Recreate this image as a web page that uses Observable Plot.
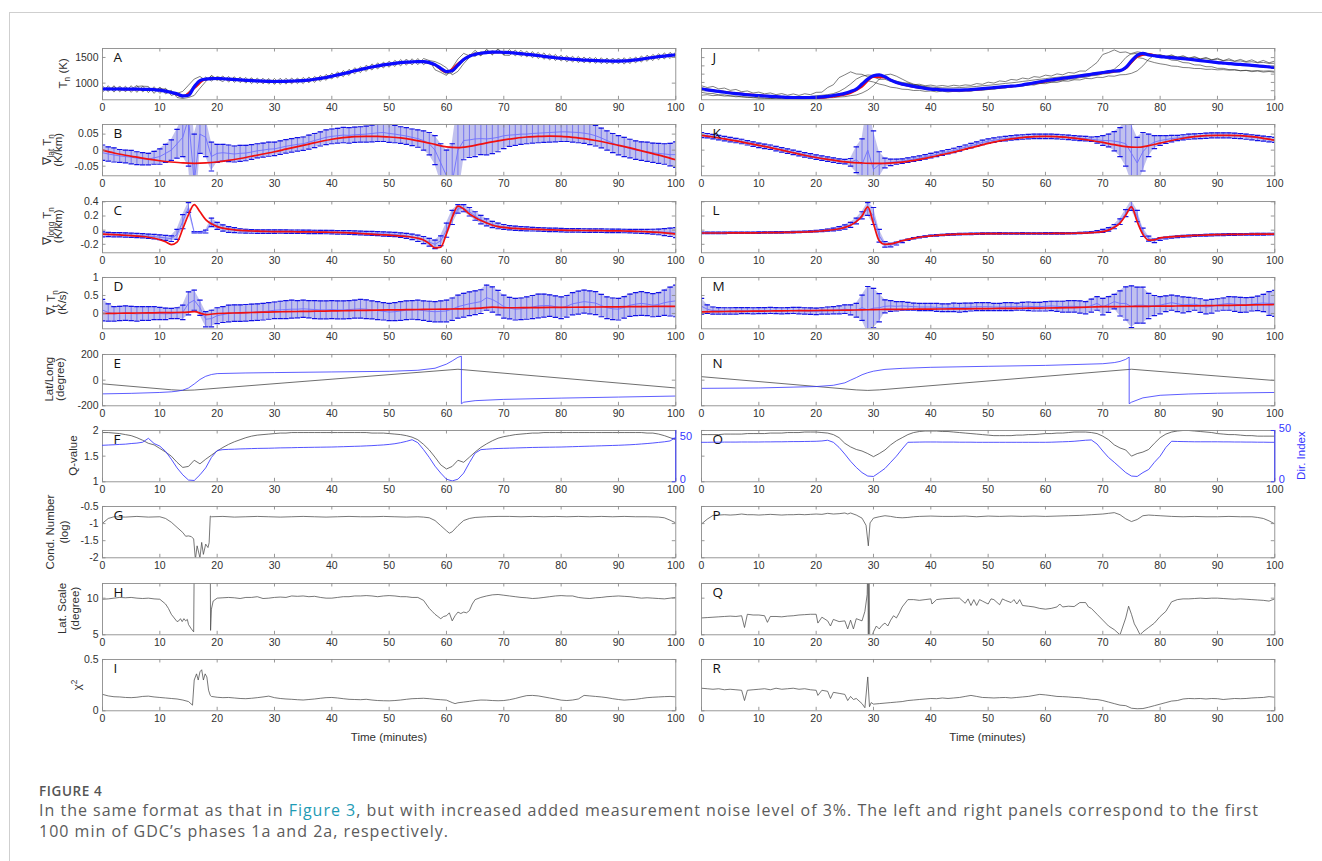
<!DOCTYPE html>
<html>
<head>
<meta charset="utf-8">
<title>Figure 4</title>
<script src="https://cdn.jsdelivr.net/npm/d3@7"></script>
<script src="https://cdn.jsdelivr.net/npm/@observablehq/plot@0.6"></script>
<style>
  html, body { margin: 0; padding: 0; background: #fff; }
  #page { position: relative; width: 1322px; height: 861px; overflow: hidden; background: #fff; }
  #border { position: absolute; left: 9px; top: 12px; right: -2px; bottom: -2px; border-top: 1px solid #cfcfcf; border-left: 1px solid #cfcfcf; }
  #caption { position: absolute; left: 39px; top: 782px; font-family: "Open Sans", sans-serif; color: #5b5b5b; white-space: nowrap; }
  #caption .fig { font-size: 13.5px; font-weight: 600; letter-spacing: 0.6px; line-height: 18px; color: #555; }
  #caption .txt { font-size: 16px; letter-spacing: 1px; line-height: 21px; }
  #caption a { color: #1e9bb5; text-decoration: none; }
</style>
</head>
<body>
<div id="page">
  <div id="border"></div>
  <div id="caption">
    <div class="fig">FIGURE 4</div>
    <div class="txt">In the same format as that in <a>Figure 3</a>, but with increased added measurement noise level of 3%. The left and right panels correspond to the first<br>100 min of GDC’s phases 1a and 2a, respectively.</div>
  </div>
</div>
<script>
// ---------------------------------------------------------------------------
// Sample grids (minutes)
const MINUTES = d3.range(0, 101);      // one sample per minute
const EVERY2 = d3.range(0, 101, 2);    // one sample every two minutes
const X_TICKS = d3.range(0, 101, 10);

// ---------------------------------------------------------------------------
// Phase 1a (left column)

// A: neutral temperature (K): estimate, truth and three observation tracks
const tnA_est = [885,888,884,886,883,885,882,880,878,872,864,
  845,818,790,750,765,930,1050,1078,1088,1090,
  1085,1078,1070,1062,1055,1048,1042,1038,1035,1032,
  1034,1036,1040,1043,1048,1060,1075,1092,1110,1135,
  1160,1185,1210,1240,1265,1290,1315,1335,1355,1370,
  1385,1398,1408,1415,1420,1418,1400,1360,1290,1225,
  1240,1350,1460,1525,1560,1582,1596,1605,1605,1600,
  1595,1585,1575,1562,1550,1538,1522,1508,1495,1485,
  1475,1465,1458,1450,1445,1440,1435,1432,1430,1430,
  1432,1440,1452,1468,1485,1500,1515,1528,1540,1552];
const tnA_true = [885,884,883,881,876,862,815,748,900,1075,1088,
  1076,1061,1047,1037,1032,1035,1042,1058,1090,1133,
  1183,1238,1288,1333,1368,1396,1413,1416,1350,1215,
  1380,1530,1583,1604,1600,1586,1562,1537,1507,1484,
  1464,1449,1439,1431,1429,1439,1467,1499,1527,1551];
const tnA_obs1 = [945,835,950,830,940,820,935,945,815,930,800,
  900,760,800,840,960,1080,1130,1050,1140,1050,
  1140,1020,1125,1010,1110,990,1100,985,1090,975,
  1095,980,1100,990,1110,1005,1130,1035,1170,1080,
  1220,1125,1270,1180,1320,1230,1375,1275,1410,1310,
  1445,1335,1470,1355,1480,1360,1440,1260,1210,1150,
  1300,1470,1580,1530,1640,1540,1660,1560,1670,1550,
  1655,1530,1640,1510,1615,1480,1590,1450,1560,1430,
  1535,1410,1520,1395,1505,1385,1495,1375,1490,1375,
  1495,1380,1510,1410,1545,1440,1575,1470,1600,1490];
const tnA_obs2 = [820,950,825,945,830,950,820,940,935,800,925,
  790,860,720,700,720,760,900,1030,1150,1080,
  1030,1130,1015,1120,1000,1105,990,1095,980,1090,
  975,1095,985,1100,990,1120,1015,1150,1055,1195,
  1100,1245,1150,1300,1205,1350,1255,1395,1295,1430,
  1325,1460,1350,1475,1360,1480,1440,1420,1370,1300,
  1160,1230,1380,1500,1600,1530,1650,1550,1660,1545,
  1540,1645,1520,1625,1495,1600,1465,1570,1440,1545,
  1415,1525,1400,1510,1390,1500,1380,1490,1370,1490,
  1370,1500,1395,1530,1425,1560,1455,1590,1480,1610];
const tnA_obs3 = [900,860,930,860,905,880,955,830,905,860,900,
  880,830,760,720,820,960,1010,1120,1040,1130,
  1090,1060,1100,1045,1060,1080,1035,1050,1060,1000,
  1040,1050,1020,1070,1060,1040,1090,1110,1100,1150,
  1170,1200,1190,1255,1270,1280,1330,1320,1370,1360,
  1400,1390,1420,1400,1440,1400,1380,1340,1250,1180,
  1200,1330,1430,1560,1520,1610,1580,1630,1590,1620,
  1600,1580,1570,1570,1540,1545,1510,1520,1480,1500,
  1470,1470,1450,1460,1440,1440,1430,1440,1425,1435,
  1440,1430,1460,1470,1480,1505,1510,1530,1535,1560];

// B: latitudinal gradient (K/km): truth, estimate and its uncertainty
const gLatA_true = [0,-0.009,-0.016,-0.022,-0.028,-0.033,-0.037,-0.04,-0.041,-0.04,-0.037,
  -0.032,-0.026,-0.019,-0.012,-0.005,0.003,0.011,0.019,0.027,0.034,
  0.039,0.042,0.043,0.043,0.041,0.038,0.033,0.026,0.018,0.01,
  0.008,0.012,0.019,0.026,0.032,0.037,0.041,0.043,0.044,0.043,
  0.04,0.036,0.03,0.023,0.015,0.007,-0.002,-0.011,-0.02,-0.03];
const gLatA_est = [-0.008,-0.012,-0.015,-0.018,-0.02,-0.022,-0.025,-0.027,-0.028,-0.024,-0.02,
  -0.01,0,0.02,0.04,0.1,-0.1,0.05,0.04,-0.02,-0.01,
  -0.008,-0.01,-0.012,-0.01,-0.009,-0.006,-0.002,0,0.003,0.004,
  0.008,0.012,0.015,0.018,0.02,0.025,0.03,0.035,0.04,0.043,
  0.045,0.047,0.046,0.048,0.049,0.05,0.052,0.054,0.055,0.052,
  0.05,0.047,0.044,0.04,0.036,0.03,0.02,0,-0.04,-0.08,
  -0.1,0,0.03,0.032,0.035,0.036,0.035,0.037,0.04,0.045,
  0.047,0.048,0.05,0.05,0.052,0.053,0.054,0.055,0.056,0.057,
  0.057,0.056,0.055,0.053,0.05,0.045,0.038,0.03,0.022,0.015,
  0.01,0.005,0,-0.003,-0.005,-0.008,-0.01,-0.012,-0.014,-0.014];
const gLatA_err = [0.024,0.022,0.022,0.02,0.02,0.021,0.02,0.019,0.018,0.02,0.024,
  0.028,0.032,0.045,0.06,0.15,0.15,0.06,0.06,0.045,0.028,
  0.026,0.026,0.025,0.025,0.024,0.023,0.022,0.022,0.022,0.021,
  0.021,0.021,0.021,0.021,0.021,0.022,0.022,0.022,0.023,0.023,
  0.023,0.024,0.024,0.024,0.024,0.025,0.026,0.027,0.028,0.028,
  0.027,0.026,0.026,0.026,0.027,0.03,0.035,0.045,0.06,0.08,
  0.12,0.15,0.06,0.055,0.055,0.05,0.05,0.048,0.045,0.04,
  0.035,0.033,0.032,0.03,0.03,0.03,0.03,0.03,0.03,0.03,
  0.03,0.031,0.032,0.032,0.033,0.032,0.031,0.03,0.03,0.03,
  0.03,0.029,0.029,0.029,0.03,0.03,0.031,0.032,0.035,0.04];

// C: longitudinal gradient (K/km)
const gLonA_true = [-0.056,-0.06,-0.064,-0.068,-0.072,-0.077,-0.083,-0.09,-0.1,-0.115,-0.135,
  -0.165,-0.205,-0.17,0.02,0.22,0.36,0.26,0.15,0.09,0.05,
  0.028,0.014,0.005,-0.002,-0.008,-0.012,-0.015,-0.017,-0.019,-0.02,
  -0.021,-0.022,-0.022,-0.023,-0.024,-0.025,-0.026,-0.027,-0.028,-0.03,
  -0.032,-0.035,-0.038,-0.042,-0.047,-0.052,-0.057,-0.062,-0.066,-0.07,
  -0.076,-0.083,-0.09,-0.1,-0.115,-0.14,-0.19,-0.25,-0.24,-0.05,
  0.18,0.34,0.3,0.23,0.18,0.135,0.1,0.07,0.05,0.038,
  0.03,0.024,0.019,0.016,0.013,0.01,0.007,0.004,0.002,0,
  -0.002,-0.003,-0.004,-0.005,-0.006,-0.007,-0.008,-0.009,-0.01,-0.011,
  -0.012,-0.014,-0.016,-0.019,-0.023,-0.027,-0.032,-0.038,-0.046,-0.056];
const gLonA_est = [-0.06,-0.062,-0.064,-0.066,-0.068,-0.072,-0.076,-0.08,-0.085,-0.092,-0.1,
  -0.11,-0.12,-0.06,0.12,0.32,-0.03,-0.03,-0.02,0.11,0.06,
  0.03,0.01,0,-0.01,-0.015,-0.018,-0.02,-0.02,-0.02,-0.02,
  -0.02,-0.021,-0.022,-0.022,-0.023,-0.024,-0.025,-0.026,-0.027,-0.028,
  -0.03,-0.032,-0.034,-0.037,-0.04,-0.043,-0.046,-0.05,-0.054,-0.058,
  -0.062,-0.07,-0.08,-0.095,-0.115,-0.14,-0.17,-0.2,-0.15,0,
  0.18,0.3,0.31,0.26,0.2,0.15,0.11,0.08,0.06,0.045,
  0.035,0.028,0.022,0.018,0.014,0.011,0.008,0.005,0.003,0,
  -0.002,-0.003,-0.004,-0.005,-0.006,-0.007,-0.008,-0.009,-0.01,-0.011,
  -0.012,-0.014,-0.016,-0.018,-0.02,-0.022,-0.025,-0.028,-0.03,-0.035];
const gLonA_err = [0.035,0.03,0.03,0.03,0.03,0.03,0.03,0.03,0.03,0.032,0.034,
  0.035,0.04,0.07,0.1,0.07,0.01,0.01,0.02,0.06,0.05,
  0.045,0.04,0.035,0.03,0.028,0.026,0.025,0.025,0.025,0.025,
  0.024,0.024,0.024,0.024,0.024,0.024,0.024,0.024,0.024,0.024,
  0.025,0.025,0.026,0.026,0.027,0.027,0.028,0.028,0.029,0.03,
  0.03,0.032,0.035,0.04,0.045,0.05,0.055,0.06,0.07,0.1,
  0.1,0.06,0.05,0.06,0.06,0.06,0.05,0.045,0.04,0.035,
  0.03,0.03,0.028,0.027,0.026,0.025,0.025,0.025,0.025,0.025,
  0.025,0.025,0.025,0.025,0.025,0.025,0.025,0.025,0.025,0.025,
  0.025,0.025,0.026,0.028,0.03,0.035,0.04,0.05,0.06,0.07];

// D: temporal gradient (K/s)
const gTimA_true = [0,0.005,0.01,0.014,0.018,0.022,0.026,0.03,0.05,-0.03,0,
  0.01,0.02,0.028,0.036,0.045,0.05,0.055,0.06,0.066,0.072,
  0.077,0.083,0.088,0.093,0.098,0.103,0.108,0.113,0.118,0.123,
  0.128,0.135,0.15,0.175,0.16,0.16,0.162,0.165,0.168,0.171,
  0.174,0.177,0.18,0.183,0.186,0.189,0.192,0.195,0.198,0.2];
const gTimA_est = [0.095,0.03,-0.01,0,0.01,0,-0.01,0,0,0.01,0,
  -0.01,0,0.01,0.03,0.28,0.37,0.16,-0.16,-0.14,-0.06,
  -0.03,0,0.01,0.01,0.02,0.03,0.04,0.05,0.07,0.09,
  0.1,0.11,0.12,0.12,0.13,0.12,0.11,0.1,0.1,0.11,
  0.1,0.1,0.11,0.12,0.13,0.12,0.1,0.08,0.06,0.04,
  0.05,0.07,0.09,0.1,0.1,0.08,0.06,0.05,0.06,0.07,
  0.12,0.19,0.23,0.27,0.3,0.33,0.44,0.39,0.3,0.19,
  0.15,0.12,0.13,0.15,0.18,0.21,0.22,0.22,0.19,0.16,
  0.2,0.27,0.3,0.33,0.31,0.29,0.22,0.16,0.13,0.12,
  0.17,0.23,0.26,0.28,0.26,0.23,0.25,0.3,0.33,0.35];
const gTimA_err = [0.3,0.24,0.2,0.2,0.2,0.2,0.2,0.19,0.19,0.18,0.17,
  0.16,0.14,0.15,0.2,0.32,0.28,0.21,0.21,0.23,0.22,
  0.22,0.23,0.23,0.23,0.23,0.23,0.23,0.23,0.23,0.23,
  0.24,0.25,0.25,0.24,0.24,0.24,0.25,0.25,0.25,0.25,
  0.25,0.25,0.25,0.25,0.26,0.26,0.25,0.25,0.24,0.24,
  0.25,0.26,0.26,0.26,0.27,0.27,0.28,0.28,0.29,0.3,
  0.31,0.32,0.33,0.33,0.33,0.33,0.35,0.35,0.34,0.32,
  0.3,0.3,0.3,0.31,0.32,0.33,0.32,0.3,0.3,0.3,
  0.3,0.31,0.32,0.32,0.32,0.32,0.31,0.3,0.3,0.3,
  0.3,0.31,0.32,0.33,0.32,0.32,0.33,0.35,0.4,0.44];

// E: satellite latitude and longitude (degree)
const latA = [[0,-29],[12,-75],[14,-80],[16,-77],[62,85],[100,-61]];
const lonA = [[0,-107],[5,-103],[10,-96],[12,-91],[13,-86],[14,-78],[15,-61],[16,-30],[17,5],[18,30],[19,44],[20,51],
  [25,56],[30,59],[40,64],[50,69],[55,77],[58,93],[60,125],[61,150],[62,178],[62.6,187],[62.6,-184],[63,-172],
  [65,-160],[70,-150],[80,-140],[90,-132],[100,-124]];

// F: Q-value (left axis) and direction index (right axis)
const qA = [1.96,1.96,1.95,1.94,1.92,1.9,1.86,1.81,1.75,1.72,1.65,
  1.58,1.5,1.38,1.28,1.3,1.42,1.35,1.44,1.52,1.6,
  1.67,1.73,1.78,1.82,1.86,1.89,1.91,1.92,1.93,1.94,
  1.95,1.95,1.96,1.96,1.96,1.96,1.96,1.96,1.96,1.96,
  1.96,1.96,1.96,1.96,1.96,1.96,1.95,1.95,1.95,1.94,
  1.93,1.92,1.9,1.87,1.82,1.73,1.62,1.48,1.33,1.25,
  1.3,1.42,1.38,1.48,1.58,1.67,1.74,1.8,1.85,1.88,
  1.9,1.92,1.93,1.94,1.95,1.95,1.96,1.96,1.96,1.96,
  1.96,1.96,1.96,1.96,1.96,1.96,1.96,1.96,1.96,1.96,
  1.96,1.96,1.96,1.96,1.95,1.95,1.93,1.9,1.86,1.82];
const dirA = [42,42.3,42.6,43,43.3,44,44.5,45.5,50,44,41,
  35,26,16,8,2,1.5,8,16,28,36,
  37,37.3,37.5,37.8,38,38.2,38.4,38.5,38.6,38.8,
  39,39.1,39.2,39.4,39.5,39.6,39.7,39.8,39.9,40,
  40.2,40.4,40.6,40.8,41,41.3,41.6,42,42.4,43,
  43.8,45,46.5,48.4,45,37,28,18,10,3,
  1,3,10,22,33,37,37.5,38,38.3,38.5,
  38.7,38.9,39.1,39.3,39.5,39.6,39.7,39.8,39.9,40,
  40.2,40.4,40.6,40.8,41,41.2,41.4,41.6,41.8,42,
  42.3,42.6,43,43.5,44,44.6,45.3,46,47,51];

// G: condition number (log)
const condA = [[0,-0.99],[1,-0.85],[2,-0.8],[4,-0.81],[6,-0.79],[8,-0.81],[10,-0.8],[11,-0.85],[12,-0.96],[13,-1.11],
  [14,-1.26],[14.5,-1.37],[15,-1.36],[15.5,-1.38],[15.9,-1.45],[16.2,-2.05],[16.5,-1.65],[17,-2],[17.3,-1.55],
  [17.6,-1.9],[18,-1.6],[18.4,-1.7],[18.6,-1.56],[18.8,-0.78],[19,-0.8],[21,-0.79],[23,-0.81],[25,-0.8],[27,-0.79],
  [29,-0.8],[31,-0.81],[33,-0.8],[35,-0.79],[37,-0.8],[39,-0.81],[41,-0.8],[43,-0.79],[45,-0.8],[47,-0.8],[49,-0.79],
  [51,-0.8],[53,-0.81],[55,-0.8],[56,-0.81],[57,-0.83],[58,-0.91],[59,-1.06],[60,-1.21],[60.5,-1.28],[61,-1.24],
  [62,-1.06],[63,-0.91],[64,-0.85],[65,-0.82],[67,-0.8],[69,-0.79],[71,-0.79],[73,-0.8],[75,-0.79],[77,-0.8],
  [79,-0.79],[81,-0.8],[83,-0.79],[85,-0.8],[87,-0.79],[89,-0.8],[91,-0.79],[93,-0.8],[95,-0.8],[97,-0.81],
  [98,-0.83],[99,-0.9],[100,-0.98]];

// H: latitudinal scale (degree)
const scaleA = [[0,9.85],[1,9.9],[2,10],[3,10.1],[4,10.05],[5,10.1],[6,10],[7,9.95],[8,10],[9,9.9],[10,9.85],[11,9.2],
  [11.5,8.6],[12,7.8],[12.5,7.3],[13,6.8],[13.3,6.9],[13.6,7.2],[13.9,6.8],[14.2,7.2],[14.5,6.9],[14.8,7.1],[15,6.4],
  [15.5,5.8],[15.9,5.4],[16,15],[18.8,15],[18.85,5.6],[19,8.5],[19.3,9.6],[20,10],[21,10.05],[22,10.1],[23,10.05],
  [24,9.95],[25,10.1],[26,10.1],[27,10.2],[28,9.95],[29,10],[30,10.1],[31,10.15],[32,10.1],[33,10.3],[34,10.25],
  [35,10.3],[36,10.2],[37,10.25],[38,10.1],[39,10],[40,10],[41,10.1],[42,10.2],[43,10.2],[44,10.3],[45,10.3],
  [46,10.35],[47,10.3],[48,10.2],[49,10.3],[50,10.35],[51,10.3],[52,10.2],[53,10.2],[54,10.1],[55,10.1],[56,9.7],
  [57,8.6],[57.5,8.2],[58,7.8],[58.5,7.5],[59,7.2],[59.5,7.5],[60,7.6],[60.5,8],[61,6.9],[61.5,7.6],[62,8.1],
  [62.5,7.9],[63,8.1],[63.5,8],[64,8.3],[64.5,9.2],[65,9.8],[66,10.1],[67,10.3],[68,10.45],[69,10.5],[70,10.4],
  [71,10.3],[72,10.2],[73,10.1],[74,10.05],[75,9.95],[76,10],[77,10.1],[78,10.2],[79,10.3],[80,10.35],[81,10.3],
  [82,10.3],[83,10.1],[84,10],[85,9.95],[86,10.05],[87,10.1],[88,10.2],[89,10.25],[90,10.3],[91,10.25],[92,10.2],
  [93,10.1],[94,10],[95,10.05],[96,10],[97,9.95],[98,9.9],[99,10],[100,10.1]];

// I: chi-square of the fit
const chiA = [[0,0.16],[1,0.145],[2,0.137],[3,0.135],[4,0.13],[5,0.128],[6,0.132],[7,0.14],[8,0.143],[9,0.135],
  [10,0.13],[11,0.125],[12,0.12],[13,0.115],[14,0.105],[15,0.09],[15.7,0.055],[16,0.3],[16.4,0.36],[16.7,0.3],
  [17,0.38],[17.3,0.4],[17.6,0.3],[17.9,0.36],[18.2,0.33],[18.5,0.2],[18.8,0.15],[19,0.14],[20,0.132],[21,0.128],
  [22,0.13],[23,0.125],[24,0.12],[25,0.118],[26,0.122],[27,0.128],[28,0.135],[29,0.143],[30,0.128],[31,0.12],
  [32,0.115],[33,0.112],[34,0.108],[35,0.105],[36,0.11],[37,0.115],[38,0.122],[39,0.128],[40,0.13],[41,0.125],
  [42,0.118],[43,0.112],[44,0.11],[45,0.108],[46,0.112],[47,0.105],[48,0.1],[49,0.098],[50,0.097],[51,0.1],
  [52,0.105],[53,0.112],[54,0.118],[55,0.12],[56,0.122],[57,0.118],[58,0.112],[59,0.108],[60,0.104],[61,0.08],
  [61.5,0.07],[62,0.078],[63,0.085],[64,0.092],[65,0.1],[66,0.105],[67,0.104],[68,0.1],[69,0.098],[70,0.1],
  [71,0.108],[72,0.12],[73,0.135],[74,0.148],[75,0.15],[76,0.145],[77,0.135],[78,0.125],[79,0.115],[80,0.104],
  [81,0.1],[82,0.105],[83,0.115],[84,0.15],[85,0.145],[86,0.14],[87,0.135],[88,0.128],[89,0.118],[90,0.11],
  [91,0.104],[92,0.108],[93,0.112],[94,0.12],[95,0.128],[96,0.132],[97,0.135],[98,0.138],[99,0.14],[100,0.136]];

// ---------------------------------------------------------------------------
// Phase 2a (right column)

// J: neutral temperature (K)
const tnB_est = [820,810,800,791,781,772,765,758,751,745,740,
  736,732,728,724,720,718,717,717,718,720,
  725,732,742,754,768,790,820,880,940,980,
  992,968,928,900,880,866,852,840,829,820,
  815,810,808,808,808,810,814,819,825,832,
  838,844,850,855,860,870,882,895,908,920,
  930,940,950,959,968,978,988,999,1010,1020,
  1030,1038,1042,1080,1160,1228,1252,1232,1222,1212,
  1206,1200,1193,1187,1180,1172,1164,1156,1148,1140,
  1134,1128,1122,1117,1112,1106,1100,1094,1087,1080];
const tnB_true = [815,800,785,770,756,744,733,724,717,713,714,
  722,740,772,850,965,960,895,860,836,820,
  808,803,804,812,825,840,852,868,890,912,
  935,955,975,995,1015,1032,1070,1210,1240,1212,
  1200,1187,1172,1156,1140,1128,1117,1106,1094,1080];
const tnB_obs1 = [860,838,852,822,832,804,815,788,797,772,783,
  762,773,752,765,745,761,743,763,752,780,
  782,838,872,958,992,1028,1002,998,967,968,
  937,938,912,913,887,893,872,878,860,868,
  854,863,852,866,857,870,864,886,877,903,
  892,918,910,936,928,953,942,970,962,988,
  977,1003,992,1020,1012,1038,1037,1088,1142,1238,
  1262,1293,1262,1268,1242,1253,1227,1248,1217,1238,
  1212,1233,1202,1223,1192,1213,1182,1203,1172,1193,
  1162,1186,1157,1178,1152,1173,1142,1166,1137,1158];
const tnB_obs2 = [835,820,812,800,795,782,775,768,762,752,748,
  740,738,730,732,725,728,722,726,730,738,
  745,752,765,790,830,880,940,975,990,985,
  970,955,935,915,900,885,870,862,850,845,
  838,835,832,835,838,842,846,852,860,865,
  872,880,888,895,902,912,920,930,938,945,
  955,962,970,978,985,992,1000,1010,1015,1025,
  1035,1060,1120,1200,1250,1270,1260,1250,1235,1228,
  1215,1222,1205,1210,1195,1200,1185,1188,1175,1180,
  1165,1168,1155,1160,1145,1150,1138,1142,1130,1132];
const tnB_obs3 = [780,768,766,750,750,736,736,724,724,714,714,
  706,708,700,702,696,702,696,702,700,707,
  706,714,716,724,728,740,748,772,808,862,
  940,990,1000,975,940,905,880,860,845,830,
  822,808,810,800,806,800,812,808,822,818,
  832,830,846,842,858,855,872,868,888,885,
  902,900,918,915,932,930,948,945,962,960,
  978,975,992,995,1010,1040,1100,1180,1230,1215,
  1195,1170,1165,1140,1135,1112,1110,1090,1090,1070,
  1070,1055,1055,1040,1045,1030,1038,1025,1032,1022];
const tnB_obs4 = [745,752,740,746,735,738,726,730,718,722,710,
  714,706,710,702,708,700,705,698,704,700,
  712,718,730,736,755,780,820,880,920,905,
  880,865,842,834,818,815,802,804,792,796,
  786,794,784,792,788,798,794,806,804,814,
  816,830,832,848,850,864,868,882,886,900,
  904,918,922,938,942,958,962,980,986,1002,
  1008,1022,1028,1060,1130,1200,1190,1160,1140,1125,
  1115,1098,1094,1080,1078,1068,1068,1058,1060,1052,
  1055,1048,1050,1043,1046,1040,1043,1037,1040,1034];

// K: latitudinal gradient (K/km)
const gLatB_true = [0.046,0.041,0.035,0.029,0.022,0.015,0.008,0,-0.008,-0.016,-0.023,
  -0.029,-0.034,-0.038,-0.04,-0.041,-0.041,-0.039,-0.035,-0.029,-0.022,
  -0.014,-0.006,0.003,0.012,0.021,0.029,0.035,0.039,0.042,0.043,
  0.042,0.039,0.035,0.03,0.024,0.017,0.011,0.009,0.014,0.022,
  0.03,0.037,0.042,0.045,0.046,0.046,0.045,0.042,0.037,0.031];
const gLatB_est = [0.047,0.045,0.042,0.039,0.036,0.033,0.03,0.027,0.023,0.019,0.015,
  0.012,0.009,0.005,0.001,-0.003,-0.007,-0.011,-0.015,-0.018,-0.022,
  -0.025,-0.028,-0.031,-0.034,-0.036,-0.038,-0.03,-0.045,0,-0.06,
  -0.045,-0.04,-0.038,-0.036,-0.034,-0.031,-0.028,-0.025,-0.021,-0.017,
  -0.013,-0.009,-0.005,-0.001,0.004,0.009,0.014,0.019,0.024,0.028,
  0.031,0.034,0.036,0.038,0.04,0.041,0.042,0.043,0.043,0.043,
  0.043,0.042,0.041,0.04,0.038,0.037,0.036,0.034,0.032,0.03,
  0.03,0.028,0.025,0.02,-0.01,-0.04,-0.005,0.015,0.025,0.03,
  0.033,0.036,0.038,0.04,0.042,0.043,0.044,0.045,0.046,0.046,
  0.046,0.046,0.045,0.044,0.042,0.04,0.038,0.036,0.034,0.032];
const gLatB_err = [0.008,0.007,0.007,0.007,0.007,0.007,0.007,0.007,0.007,0.007,0.007,
  0.007,0.007,0.007,0.007,0.007,0.007,0.007,0.007,0.007,0.007,
  0.007,0.007,0.007,0.007,0.007,0.012,0.04,0.08,0.15,0.12,
  0.04,0.015,0.01,0.008,0.007,0.007,0.007,0.007,0.007,0.007,
  0.007,0.007,0.007,0.007,0.007,0.007,0.007,0.007,0.007,0.007,
  0.007,0.007,0.007,0.007,0.007,0.007,0.007,0.007,0.007,0.007,
  0.007,0.007,0.007,0.007,0.007,0.007,0.007,0.007,0.01,0.015,
  0.02,0.03,0.045,0.07,0.09,0.08,0.06,0.035,0.02,0.015,
  0.012,0.01,0.008,0.008,0.008,0.008,0.008,0.008,0.008,0.008,
  0.008,0.008,0.008,0.008,0.008,0.008,0.008,0.008,0.008,0.008];

// L: longitudinal gradient (K/km)
const gLonB_true = [-0.04,-0.04,-0.04,-0.04,-0.04,-0.039,-0.039,-0.039,-0.038,-0.038,-0.037,
  -0.036,-0.035,-0.034,-0.033,-0.032,-0.03,-0.028,-0.026,-0.022,-0.018,
  -0.012,-0.004,0.006,0.02,0.04,0.07,0.12,0.2,0.33,0.09,
  -0.15,-0.2,-0.195,-0.175,-0.15,-0.13,-0.115,-0.1,-0.09,-0.08,
  -0.074,-0.069,-0.064,-0.06,-0.057,-0.055,-0.053,-0.051,-0.05,-0.049,
  -0.048,-0.048,-0.047,-0.047,-0.047,-0.047,-0.047,-0.047,-0.047,-0.047,
  -0.047,-0.046,-0.046,-0.045,-0.044,-0.042,-0.04,-0.036,-0.03,-0.02,
  0,0.04,0.1,0.21,0.33,0.12,-0.06,-0.14,-0.137,-0.11,
  -0.1,-0.094,-0.088,-0.083,-0.079,-0.075,-0.072,-0.069,-0.066,-0.064,
  -0.062,-0.061,-0.06,-0.059,-0.058,-0.057,-0.057,-0.056,-0.056,-0.056];
const gLonB_est = [-0.038,-0.038,-0.038,-0.038,-0.038,-0.037,-0.037,-0.037,-0.036,-0.036,-0.035,
  -0.034,-0.033,-0.032,-0.031,-0.03,-0.028,-0.026,-0.023,-0.019,-0.014,
  -0.008,0,0.01,0.025,0.045,0.075,0.13,0.21,0.3,0.2,
  -0.08,-0.2,-0.21,-0.19,-0.16,-0.135,-0.115,-0.1,-0.09,-0.08,
  -0.073,-0.068,-0.063,-0.059,-0.056,-0.054,-0.052,-0.05,-0.049,-0.048,
  -0.047,-0.046,-0.047,-0.048,-0.047,-0.046,-0.047,-0.048,-0.047,-0.046,
  -0.046,-0.046,-0.045,-0.044,-0.043,-0.04,-0.036,-0.03,-0.022,-0.01,
  0.01,0.05,0.12,0.24,0.35,0.2,-0.03,-0.12,-0.15,-0.125,
  -0.11,-0.1,-0.093,-0.087,-0.082,-0.078,-0.074,-0.071,-0.068,-0.066,
  -0.064,-0.062,-0.061,-0.06,-0.059,-0.058,-0.057,-0.057,-0.056,-0.056];
const gLonB_err = [0.01,0.01,0.01,0.01,0.01,0.01,0.01,0.01,0.01,0.01,0.01,
  0.01,0.01,0.01,0.01,0.01,0.01,0.01,0.01,0.01,0.01,
  0.012,0.015,0.02,0.025,0.03,0.035,0.04,0.05,0.09,0.12,
  0.09,0.04,0.025,0.02,0.015,0.01,0.01,0.01,0.01,0.01,
  0.01,0.01,0.01,0.01,0.01,0.01,0.01,0.01,0.01,0.01,
  0.01,0.01,0.01,0.01,0.01,0.01,0.01,0.01,0.01,0.01,
  0.01,0.01,0.01,0.01,0.01,0.01,0.01,0.01,0.015,0.02,
  0.025,0.03,0.04,0.05,0.07,0.08,0.06,0.035,0.025,0.02,
  0.012,0.012,0.012,0.012,0.012,0.012,0.012,0.012,0.012,0.012,
  0.012,0.012,0.012,0.012,0.012,0.012,0.012,0.012,0.012,0.012];

// M: temporal gradient (K/s)
const gTimB_true = [0.046,0.05,0.055,0.058,0.062,0.066,0.07,0.074,0.077,0.08,0.083,
  0.087,0.09,0.095,0.1,0.11,0.112,0.115,0.118,0.12,0.122,
  0.125,0.128,0.131,0.134,0.137,0.14,0.143,0.146,0.15,0.153,
  0.157,0.162,0.168,0.18,0.19,0.192,0.194,0.197,0.2,0.203,
  0.207,0.21,0.214,0.218,0.222,0.227,0.232,0.237,0.243,0.25];
const gTimB_est = [0.2,0.12,0.08,0.075,0.07,0.07,0.075,0.08,0.08,0.075,0.08,
  0.08,0.085,0.08,0.075,0.08,0.085,0.08,0.07,0.065,0.06,
  0.07,0.08,0.09,0.1,0.12,0.1,0.09,0.16,0.1,0.15,
  0.16,0.2,0.21,0.2,0.21,0.2,0.19,0.18,0.18,0.18,
  0.17,0.16,0.16,0.17,0.16,0.17,0.18,0.19,0.19,0.19,
  0.18,0.18,0.19,0.19,0.19,0.2,0.2,0.19,0.19,0.2,
  0.21,0.2,0.19,0.2,0.2,0.18,0.16,0.22,0.28,0.19,
  0.25,0.33,0.28,0.28,0.19,0.23,0.23,0.21,0.22,0.23,
  0.27,0.3,0.27,0.24,0.25,0.26,0.22,0.18,0.2,0.24,
  0.26,0.28,0.26,0.24,0.24,0.26,0.28,0.29,0.28,0.28];
const gTimB_err = [0.22,0.12,0.1,0.09,0.09,0.09,0.09,0.085,0.085,0.085,0.085,
  0.085,0.085,0.085,0.085,0.085,0.085,0.09,0.09,0.09,0.09,
  0.09,0.1,0.1,0.11,0.12,0.14,0.19,0.35,0.65,0.55,
  0.39,0.18,0.15,0.13,0.12,0.11,0.1,0.1,0.1,0.1,
  0.11,0.11,0.11,0.12,0.12,0.12,0.11,0.11,0.11,0.11,
  0.1,0.1,0.11,0.11,0.1,0.11,0.12,0.12,0.12,0.13,
  0.13,0.14,0.15,0.16,0.16,0.17,0.17,0.18,0.19,0.23,
  0.22,0.2,0.35,0.46,0.58,0.5,0.5,0.35,0.28,0.24,
  0.22,0.21,0.22,0.22,0.2,0.17,0.19,0.19,0.19,0.17,
  0.17,0.19,0.2,0.21,0.2,0.19,0.2,0.24,0.33,0.36];

// N: satellite latitude and longitude (degree)
const latB = [[0,27],[27,-76],[29,-80],[31,-76],[75,85],[100,-3]];
const lonB = [[0,-64],[10,-61],[20,-50],[23,-40],[25,-21],[26,0],[27,20],[28,42],[29,58],[30,70],[32,84],[35,92],
  [40,100],[50,108],[60,115],[70,128],[72,137],[73,146],[74,162],[74.6,180],[74.6,-184],[75,-172],[77,-138],
  [80,-118],[85,-108],[90,-102],[100,-96]];

// O: Q-value and direction index
const qB = [1.92,1.92,1.92,1.92,1.93,1.93,1.93,1.93,1.94,1.94,1.94,
  1.94,1.95,1.95,1.95,1.96,1.96,1.96,1.97,1.97,1.97,
  1.96,1.95,1.92,1.86,1.75,1.68,1.63,1.6,1.55,1.49,
  1.55,1.62,1.72,1.8,1.86,1.92,1.96,1.98,1.99,1.99,
  1.99,1.98,1.98,1.97,1.96,1.95,1.94,1.93,1.92,1.91,
  1.9,1.9,1.9,1.9,1.91,1.91,1.92,1.92,1.93,1.94,
  1.94,1.95,1.95,1.96,1.97,1.97,1.97,1.96,1.94,1.89,
  1.82,1.72,1.66,1.62,1.5,1.55,1.58,1.63,1.75,1.86,
  1.93,1.97,1.99,2,2,1.99,1.98,1.97,1.96,1.94,
  1.93,1.92,1.92,1.91,1.9,1.9,1.89,1.89,1.89,1.89];
const dirB = [38.5,38.5,38.6,38.6,38.7,38.7,38.7,38.8,38.8,38.8,38.8,
  38.9,38.9,39,39,39.1,39.2,39.2,39.3,39.4,39.5,
  39.8,40.5,38.5,33.5,27,20,14,9,5.6,5.2,
  9,13,19,25,32,38.5,38.6,38.7,38.8,38.8,
  38.8,38.7,38.7,38.7,38.6,38.6,38.6,38.5,38.5,38.5,
  38.5,38.5,38.5,38.5,38.5,38.5,38.5,38.5,38.5,38.5,
  38.6,38.8,39,39.2,39.5,40,40.5,40.8,36.8,30,
  23.7,19,14,9,5.6,5.2,9,12,19,25,
  33.5,39.5,39.3,39.2,39.1,39,39,39,39,39,
  38.9,38.9,38.8,38.8,38.7,38.7,38.6,38.6,38.5,38.5];

// P: condition number (log)
const condB = [[0,-1.01],[1,-0.87],[2,-0.76],[3,-0.75],[4,-0.74],[5,-0.75],[6,-0.74],[7,-0.72],[8,-0.74],[9,-0.74],
  [10,-0.75],[11,-0.74],[12,-0.73],[13,-0.74],[14,-0.75],[15,-0.74],[16,-0.74],[17,-0.73],[18,-0.74],[19,-0.73],
  [20,-0.72],[21,-0.73],[22,-0.7],[23,-0.72],[24,-0.71],[25,-0.69],[25.5,-0.72],[26,-0.69],[27,-0.75],[28,-0.84],
  [28.7,-1.05],[29.1,-1.65],[29.4,-0.98],[30,-0.84],[31,-0.8],[32,-0.77],[33,-0.79],[34,-0.82],[35,-0.83],
  [36,-0.82],[37,-0.8],[38,-0.79],[40,-0.78],[42,-0.79],[44,-0.79],[46,-0.78],[48,-0.8],[50,-0.78],[52,-0.79],
  [54,-0.78],[56,-0.79],[58,-0.78],[60,-0.79],[62,-0.78],[64,-0.77],[66,-0.76],[67,-0.75],[68,-0.74],[69,-0.73],
  [70,-0.72],[71,-0.7],[72,-0.68],[73,-0.74],[74,-0.86],[75,-0.94],[76,-0.88],[77,-0.77],[78,-0.75],[79,-0.76],
  [80,-0.77],[82,-0.79],[84,-0.8],[86,-0.79],[88,-0.8],[90,-0.8],[92,-0.79],[94,-0.8],[96,-0.8],[97,-0.82],
  [98,-0.85],[99,-0.92],[100,-1.01]];

// Q: latitudinal scale (degree)
const scaleB = [[0,7.3],[1,7.35],[2,7.4],[3,7.45],[4,7.5],[5,7.55],[6,7.5],[7,7.6],[7.5,6],[8,7.8],[9,7.7],[10,7.7],
  [11,7.6],[11.5,6.7],[12,7.5],[13,7.5],[14,7.45],[15,7.55],[16,7.6],[17,7.7],[18,7.75],[19,7.8],[20,7.8],[20.3,6.6],
  [21,7.4],[22,6.9],[22.5,6.2],[23,7.1],[24,6.8],[25,6.9],[25.5,5.8],[26,7],[26.5,5.8],[27,7.2],[28,6.9],[28.5,8.2],
  [28.9,10.5],[29,15],[29.1,5],[29.2,15],[29.35,4],[30,5.4],[30.5,6.2],[31,5.8],[31.5,6.3],[32,6.6],[32.5,6.2],
  [33,7],[33.5,7.6],[34,7.3],[34.5,8],[35,8.8],[36,9.8],[37,9.8],[38,9.7],[39,9.8],[40,9.9],[40.2,9.2],[41,9.8],
  [42,9.9],[43,9.95],[44,10],[45,10],[46,9.3],[46.5,9.9],[47,9],[47.5,9.8],[48,9],[48.5,9.8],[49,9.6],[50,9.2],
  [50.5,9.9],[51,9.8],[52,9.1],[52.5,9.9],[53,9.7],[54,9.4],[54.5,9.8],[55,9.2],[55.5,9.8],[56,9],[57,8.9],[58,8.8],
  [59,8.6],[60,8.5],[61,8.6],[62,8.8],[62.5,9.2],[63,8.8],[64,8.9],[65,8.85],[66,9.4],[67,9.4],[67.5,8.8],[68,8.6],
  [69,7.8],[70,7],[71,6.2],[72,5.7],[73,5],[74,7.3],[74.5,8.9],[75,7.8],[75.5,6.5],[76,5.8],[76.5,5],[77,5.4],[78,6],
  [79,6.6],[80,7.5],[81,8.2],[82,9.5],[83,9.8],[84,9.9],[85,9.9],[86,9.95],[87,10],[88,9.95],[89,10],[90,10],
  [91,9.95],[92,9.9],[93,9.85],[94,9.9],[95,9.85],[96,9.8],[97,9.75],[98,9.7],[99,9.6],[100,9.9]];

// R: chi-square of the fit
const chiB = [[0,0.22],[1,0.215],[2,0.21],[3,0.215],[4,0.205],[5,0.21],[6,0.205],[7,0.2],[7.5,0.1],[8,0.2],[9,0.205],
  [10,0.21],[11,0.215],[12,0.205],[13,0.22],[14,0.21],[15,0.215],[16,0.22],[17,0.21],[18,0.215],[19,0.205],[20,0.2],
  [20.3,0.15],[21,0.2],[22,0.19],[22.5,0.12],[23,0.18],[24,0.17],[25,0.16],[25.5,0.1],[26,0.14],[26.5,0.11],[27,0.12],
  [28,0.07],[28.5,0.03],[29,0.33],[29.3,0.04],[29.6,0.08],[30,0.065],[31,0.07],[32,0.075],[33,0.08],[34,0.085],
  [35,0.09],[36,0.1],[37,0.105],[38,0.11],[39,0.115],[40,0.12],[41,0.118],[42,0.125],[43,0.12],[44,0.125],[45,0.13],
  [46,0.14],[47,0.15],[48,0.14],[49,0.13],[50,0.128],[51,0.125],[52,0.128],[53,0.13],[54,0.125],[55,0.13],
  [56,0.135],[57,0.14],[58,0.15],[59,0.16],[60,0.155],[61,0.148],[62,0.14],[63,0.138],[64,0.135],[65,0.13],
  [66,0.128],[67,0.12],[68,0.112],[69,0.11],[70,0.1],[71,0.085],[72,0.07],[73,0.055],[74,0.05],[75,0.025],
  [76,0.02],[77,0.022],[78,0.035],[79,0.05],[80,0.065],[81,0.08],[82,0.095],[83,0.1],[84,0.115],[85,0.12],
  [86,0.118],[87,0.12],[88,0.115],[89,0.12],[90,0.118],[91,0.11],[92,0.115],[93,0.12],[94,0.118],[95,0.12],
  [96,0.125],[97,0.128],[98,0.13],[99,0.138],[100,0.132]];

// ---------------------------------------------------------------------------
// Layout and styling
const ROW0 = 47.7, ROWSTEP = 76.45, PH = 51.3, PW = 573.3;
const COLX = [102.3, 700.8];
const ML = 60, MR = 45, MT = 8, MB = 24;

const AXIS_FONT = "'Liberation Sans', Arial, Helvetica, sans-serif";
const LETTER_FONT = "'Open Sans', 'Liberation Sans', sans-serif";
const FRAME = "#8c8c8c", TXT = "#303030";
const BLUE = "#0b0bff", RED = "#f01010", INK = "#2a2a2a";
const BAND_FILL = "#8e8ee0", BAR = "#3c3cf0", CAP = "#1212e6", MID = "#6f6fff";
const TRACE = "#4a4a4a", DIR_BLUE = "#3535ff";

const page = document.getElementById("page");

const series = (t, v) => t.map((x, i) => ({t: x, v: v[i]}));
const pairs = p => p.map(([t, v]) => ({t, v}));
const band = (c, e) => MINUTES.map((t, i) => ({t, c: c[i], lo: c[i] - e[i], hi: c[i] + e[i]}));

// short horizontal stroke used as error-bar cap
const capSymbol = {draw(ctx, size) { const r = Math.sqrt(size / Math.PI); ctx.moveTo(-r, 0); ctx.lineTo(r, 0); }};

function place(svg, col, row) {
  svg.style.position = "absolute";
  svg.style.left = (COLX[col] - ML) + "px";
  svg.style.top = (ROW0 + ROWSTEP * row - MT) + "px";
  page.appendChild(svg);
}

function baseOptions(domain, showY) {
  return {
    width: ML + PW + MR, height: MT + PH + MB,
    marginLeft: ML, marginRight: MR, marginTop: MT, marginBottom: MB,
    style: {background: "transparent", overflow: "visible", fontFamily: AXIS_FONT, fontSize: "10.5px", maxWidth: "none"},
    x: {domain: [0, 100]},
    y: showY ? {domain} : {domain, axis: null}
  };
}

function panel(col, row, {domain, ticks, letter, marks, rightTicks = true}) {
  const showY = col === 0;
  const svg = Plot.plot({
    ...baseOptions(domain, showY),
    marks: [
      ...marks,
      Plot.frame({stroke: FRAME, strokeWidth: 0.9}),
      Plot.ruleX(X_TICKS, {stroke: FRAME, strokeWidth: 0.9, insetBottom: PH - 3.5}),
      Plot.ruleX(X_TICKS, {stroke: FRAME, strokeWidth: 0.9, insetTop: PH - 3.5}),
      Plot.ruleY(ticks, {stroke: FRAME, strokeWidth: 0.9, insetRight: PW - 3.5}),
      rightTicks ? Plot.ruleY(ticks, {stroke: FRAME, strokeWidth: 0.9, insetLeft: PW - 3.5}) : null,
      Plot.axisX({ticks: X_TICKS, tickSize: 0, tickPadding: 4, color: TXT, label: null, fontSize: 10.5}),
      showY ? Plot.axisY({ticks, tickSize: 0, tickPadding: 4, color: TXT, label: null, fontSize: 10.5, tickFormat: d => String(d)}) : null,
      Plot.text([letter], {frameAnchor: "top-left", dx: 11, dy: 3.5, text: d => d, textAnchor: "start", lineAnchor: "top",
        fontSize: 13.5, fontFamily: LETTER_FONT, fill: "#111"})
    ]
  });
  place(svg, col, row);
}

// right-hand direction-index axis drawn over the Q-value panels
function dirOverlay(col, row, data, domain) {
  const svg = Plot.plot({
    ...baseOptions(domain, false),
    x: {domain: [0, 100], axis: null},
    marks: [
      Plot.line(data, {x: "t", y: "v", stroke: DIR_BLUE, strokeWidth: 0.85, clip: true}),
      Plot.ruleX([100], {stroke: DIR_BLUE, strokeWidth: 1}),
      Plot.ruleY([0, 50], {stroke: DIR_BLUE, strokeWidth: 0.9, insetLeft: PW - 3.5}),
      Plot.axisY({anchor: "right", ticks: [0, 50], tickSize: 0, tickPadding: 4, dy: -2, color: DIR_BLUE, label: null, fontSize: 11})
    ]
  });
  place(svg, col, row);
}

function temperatureMarks(obs, truth, est) {
  return [
    ...obs.map(o => Plot.line(series(MINUTES, o), {x: "t", y: "v", stroke: INK, strokeWidth: 0.6, clip: true})),
    Plot.line(series(EVERY2, truth), {x: "t", y: "v", stroke: RED, strokeWidth: 2, curve: "monotone-x", clip: true}),
    Plot.line(series(MINUTES, est), {x: "t", y: "v", stroke: BLUE, strokeWidth: 3.2, curve: "monotone-x", clip: true})
  ];
}

function gradientMarks(est, err, truthT, truth) {
  const rows = band(est, err);
  return [
    Plot.areaY(rows, {x: "t", y1: "lo", y2: "hi", fill: BAND_FILL, fillOpacity: 0.55, clip: true}),
    Plot.ruleX(rows, {x: "t", y1: "lo", y2: "hi", stroke: BAR, strokeWidth: 0.7, strokeOpacity: 0.8, clip: true}),
    Plot.dot(rows, {x: "t", y: "hi", symbol: capSymbol, r: 2.7, fill: "none", stroke: CAP, strokeWidth: 1.2, clip: true}),
    Plot.dot(rows, {x: "t", y: "lo", symbol: capSymbol, r: 2.7, fill: "none", stroke: CAP, strokeWidth: 1.2, clip: true}),
    Plot.line(rows, {x: "t", y: "c", stroke: MID, strokeWidth: 0.9, clip: true}),
    Plot.line(series(truthT, truth), {x: "t", y: "v", stroke: RED, strokeWidth: 1.7, curve: "monotone-x", clip: true})
  ];
}

function positionMarks(lat, lon) {
  return [
    Plot.line(pairs(lat), {x: "t", y: "v", stroke: TRACE, strokeWidth: 0.8, clip: true}),
    Plot.line(pairs(lon), {x: "t", y: "v", stroke: DIR_BLUE, strokeWidth: 0.8, clip: true})
  ];
}

const trace = data => [Plot.line(pairs(data), {x: "t", y: "v", stroke: TRACE, strokeWidth: 0.75, clip: true})];
const qTrace = q => [Plot.line(series(MINUTES, q), {x: "t", y: "v", stroke: TRACE, strokeWidth: 0.8, clip: true})];

// axis settings shared by both columns
const AX = {
  tn: {domain: [675, 1675], ticks: [1000, 1500]},
  tnB: {domain: [690, 1310], ticks: [800, 900, 1000, 1100, 1200]},
  lat: {domain: [-0.08, 0.08], ticks: [-0.05, 0, 0.05]},
  lon: {domain: [-0.32, 0.405], ticks: [-0.2, 0, 0.2, 0.4]},
  tim: {domain: [-0.425, 1], ticks: [0, 0.5, 1]},
  pos: {domain: [-200, 200], ticks: [-200, 0, 200]},
  q: {domain: [1, 2], ticks: [1, 1.5, 2]},
  cond: {domain: [-2, -0.5], ticks: [-2, -1.5, -1, -0.5]},
  scale: {domain: [5, 12], ticks: [5, 10]},
  chi: {domain: [0, 0.5], ticks: [0, 0.5]}
};

// ---- left column (phase 1a)
panel(0, 0, {...AX.tn, letter: "A", marks: temperatureMarks([tnA_obs1, tnA_obs2, tnA_obs3], tnA_true, tnA_est)});
panel(0, 1, {...AX.lat, letter: "B", marks: gradientMarks(gLatA_est, gLatA_err, EVERY2, gLatA_true)});
panel(0, 2, {...AX.lon, letter: "C", marks: gradientMarks(gLonA_est, gLonA_err, MINUTES, gLonA_true)});
panel(0, 3, {...AX.tim, letter: "D", marks: gradientMarks(gTimA_est, gTimA_err, EVERY2, gTimA_true)});
panel(0, 4, {...AX.pos, letter: "E", marks: positionMarks(latA, lonA)});
panel(0, 5, {...AX.q, letter: "F", marks: qTrace(qA), rightTicks: false});
dirOverlay(0, 5, series(MINUTES, dirA), [0, 59]);
panel(0, 6, {...AX.cond, letter: "G", marks: trace(condA)});
panel(0, 7, {...AX.scale, letter: "H", marks: trace(scaleA)});
panel(0, 8, {...AX.chi, letter: "I", marks: trace(chiA)});

// ---- right column (phase 2a)
panel(1, 0, {...AX.tnB, letter: "J", marks: temperatureMarks([tnB_obs1, tnB_obs2, tnB_obs3, tnB_obs4], tnB_true, tnB_est)});
panel(1, 1, {...AX.lat, letter: "K", marks: gradientMarks(gLatB_est, gLatB_err, EVERY2, gLatB_true)});
panel(1, 2, {...AX.lon, letter: "L", marks: gradientMarks(gLonB_est, gLonB_err, MINUTES, gLonB_true)});
panel(1, 3, {...AX.tim, letter: "M", marks: gradientMarks(gTimB_est, gTimB_err, EVERY2, gTimB_true)});
panel(1, 4, {...AX.pos, letter: "N", marks: positionMarks(latB, lonB)});
panel(1, 5, {...AX.q, letter: "O", marks: qTrace(qB), rightTicks: false});
dirOverlay(1, 5, series(MINUTES, dirB), [0, 50]);
panel(1, 6, {...AX.cond, letter: "P", marks: trace(condB)});
panel(1, 7, {...AX.scale, letter: "Q", marks: trace(scaleB)});
panel(1, 8, {...AX.chi, letter: "R", marks: trace(chiB)});

// ---------------------------------------------------------------------------
// Axis titles
const overlay = d3.select(page).append("svg")
  .attr("width", 1322).attr("height", 861)
  .style("position", "absolute").style("left", "0px").style("top", "0px").style("pointer-events", "none");

function rotLabel(x, row, parts, color = TXT, size = 11.5) {
  const y = ROW0 + ROWSTEP * row + PH / 2;
  const t = overlay.append("text")
    .attr("transform", `translate(${x},${y}) rotate(-90)`)
    .attr("text-anchor", "middle")
    .attr("font-family", AXIS_FONT).attr("font-size", size).attr("fill", color);
  let shift = 0;
  for (const p of parts) {
    const [s, kind] = typeof p === "string" ? [p, null] : p;
    const dy = kind === "sub" ? 3 : kind === "sup" ? -4.5 : 0;
    t.append("tspan").attr("dy", dy - shift).attr("font-size", kind ? size * 0.72 : size).text(s);
    shift = dy;
  }
}

rotLabel(67, 0, ["T", ["n", "sub"], " (K)"]);
rotLabel(51, 1, ["∇", ["lat", "sub"], " T", ["n", "sub"]]);
rotLabel(62, 1, ["(K/km)"]);
rotLabel(51, 2, ["∇", ["long", "sub"], " T", ["n", "sub"]]);
rotLabel(62, 2, ["(K/km)"]);
rotLabel(55, 3, ["∇", ["t", "sub"], " T", ["n", "sub"]]);
rotLabel(66, 3, ["(K/s)"]);
rotLabel(53, 4, ["Lat/Long"]);
rotLabel(64, 4, ["(degree)"]);
rotLabel(77, 5, ["Q-value"]);
rotLabel(54, 6, ["Cond. Number"]);
rotLabel(68, 6, ["(log)"]);
rotLabel(66, 7, ["Lat. Scale"]);
rotLabel(79, 7, ["(degree)"]);
rotLabel(81, 8, ["χ", ["2", "sup"]]);
rotLabel(1305, 5, ["Dir. Index"], DIR_BLUE, 11.5);

for (const cx of COLX) {
  overlay.append("text")
    .attr("x", cx + PW / 2).attr("y", 741)
    .attr("text-anchor", "middle")
    .attr("font-family", AXIS_FONT).attr("font-size", 11.5).attr("fill", TXT)
    .text("Time (minutes)");
}
</script>
</body>
</html>
